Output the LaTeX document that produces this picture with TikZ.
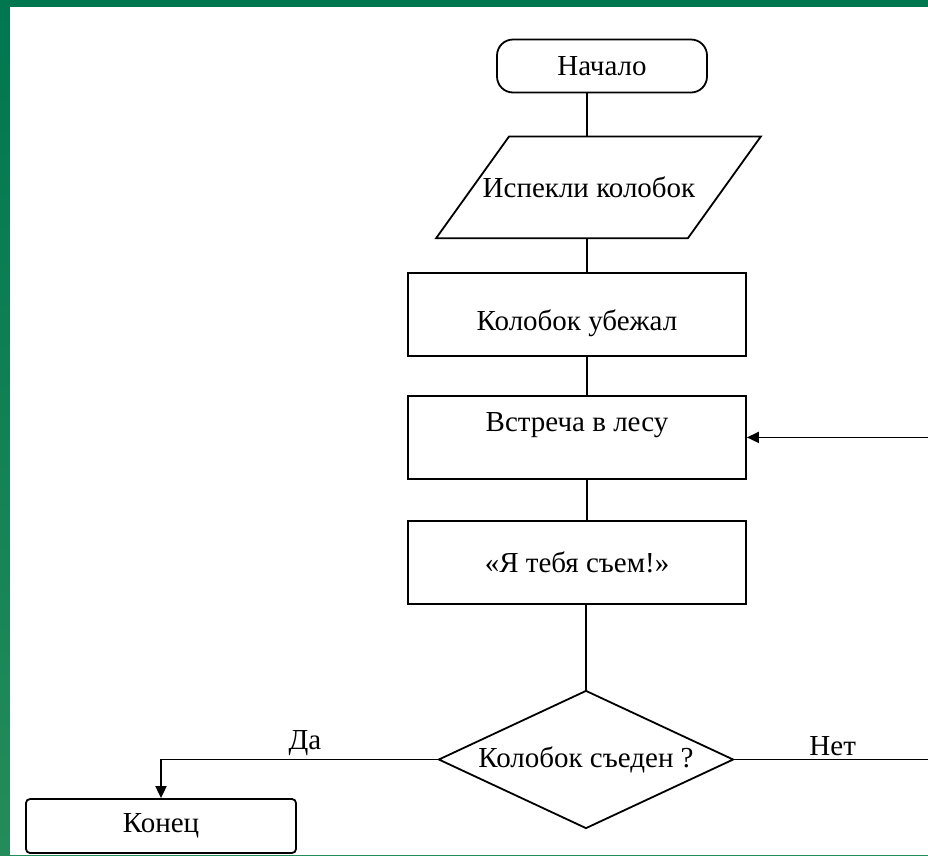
\documentclass[tikz,border=0pt]{standalone}
\usepackage{fontspec}
\setmainfont{Liberation Serif}
\usetikzlibrary{positioning,arrows.meta,shapes.geometric,calc}
\definecolor{slidegreen}{RGB}{0,119,79}
\definecolor{slidegreenlow}{RGB}{36,140,90}

\begin{document}
\begin{tikzpicture}[x=1pt, y=-1pt,
  base/.style={draw, line width=1.8pt, font=\fontsize{29}{31}\selectfont,
               inner sep=2pt},
  term/.style={base, rounded corners=16pt, minimum width=210pt,
               minimum height=53pt},
  io/.style={base, draw=none, minimum width=250pt, minimum height=100pt},
  proc/.style={base, minimum width=338pt, minimum height=83pt},
  cond/.style={base, diamond, shape aspect=2.14, inner sep=0pt,
               minimum width=295pt, minimum height=138pt},
  finish/.style={base, rounded corners=4pt, minimum width=270pt,
                 minimum height=54pt},
  lbl/.style={font=\fontsize{29}{31}\selectfont},
  line/.style={line width=1.8pt},
  arr/.style={line, -{Triangle[length=12pt, width=11pt]}},
  node distance=38pt]
\useasboundingbox (0,0) rectangle (928,855);
\clip (0,0) rectangle (928,855);
\fill[top color=slidegreen, bottom color=slidegreenlow] (0,0) rectangle (928,855);
\fill[white] (10,7) rectangle (928,855);

\node[term] (start) at (602,66) {Начало};
\node[io, below=43pt of start, xshift=-13pt] (in) {Испекли колобок};
\draw[line] ($(in.north west)+(46,0)$) -- ($(in.north east)+(46,0)$)
  -- ($(in.south east)+(-27,0)$) -- ($(in.south west)+(-27,0)$) -- cycle;
\node[proc, below=34pt of in, xshift=-12pt, text height=37pt, text depth=6pt]
  (ran) {Колобок убежал};
\node[proc, below=of ran, text height=21pt, text depth=33pt] (meet)
  {Встреча в лесу};
\node[proc, below=40pt of meet] (eat) {«Я тебя съем!»};
\node[cond, below=85pt of eat, xshift=9pt] (dec) {Колобок съеден ?};
\node[finish] (fin) at (161,826) {Конец};

\coordinate (spine) at (587,0);
\coordinate (back) at (931,0);
\draw[line] (start.south -| spine) -- (in.north -| spine);
\draw[line] (in.south -| spine) -- (ran.north -| spine);
\draw[line] (ran.south -| spine) -- (meet.north -| spine);
\draw[line] (meet.south -| spine) -- (eat.north -| spine);
\draw[line] (eat.south -| dec.north) -- (dec.north);
\draw[arr] (dec.west) -| node[lbl, pos=0.24, above] {Да} (fin.north);
\draw[arr] (dec.east) -- node[lbl, above] {Нет} (dec.east -| back)
  |- (meet.east);
\end{tikzpicture}
\end{document}
